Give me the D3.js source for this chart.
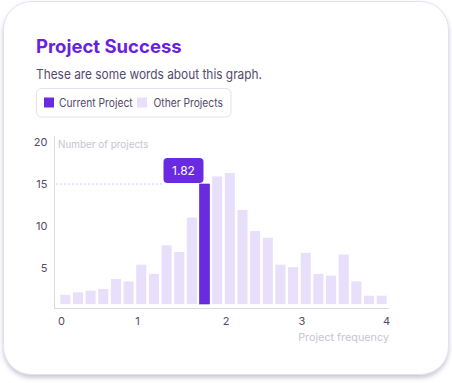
<!DOCTYPE html>
<html>
<head>
<meta charset="utf-8">
<script src="https://cdn.jsdelivr.net/npm/d3@7"></script>
<style>
  body { margin: 0; background: #ffffff; }
  svg { display: block; font-family: Inter, "Noto Sans", sans-serif; }
</style>
</head>
<body>
<svg width="452" height="383"></svg>
<script>
// histogram bins (26 bins between 0 and 4), counts
const binCounts = [1.8, 2.1, 2.3, 2.5, 3.7, 3.4, 5.4, 4.3, 7.7, 6.9, 11.0, 15.0, 15.9,
  16.3, 11.9, 9.4, 8.6, 5.4, 5.1, 6.8, 4.3, 4.1, 6.6, 3.4, 1.7, 1.7];
const currentBin = 11;
const currentValue = "1.82";
const xTickBins = [0, 6, 13, 19, 26];
const xTickLabels = ["0", "1", "2", "3", "4"];
const yTicks = [5, 10, 15, 20];
const legendItems = ["Current Project", "Other Projects"];

const dark = "#6a2be0";
const light = "#e8dffa";
const textCol = "#54496a";

const svg = d3.select("svg");

// card
const defs = svg.append("defs");
const f = defs.append("filter").attr("id", "shadow")
  .attr("x", "-5%").attr("y", "-5%").attr("width", "110%").attr("height", "115%");
f.append("feDropShadow").attr("dx", 0).attr("dy", 3).attr("stdDeviation", 2)
  .attr("flood-color", "#6b6680").attr("flood-opacity", 0.35);

svg.append("rect")
  .attr("x", 3.5).attr("y", 1.5).attr("width", 445).attr("height", 373)
  .attr("rx", 28)
  .attr("fill", "#fff").attr("stroke", "#e6def7").attr("stroke-width", 1)
  .attr("filter", "url(#shadow)");

// title and subtitle
svg.append("text").attr("x", 36).attr("y", 52.5)
  .attr("fill", "#6a1fe3").attr("font-size", 18.5).attr("font-weight", 700)
  .text("Project Success");
svg.append("text").attr("x", 36).attr("y", 79)
  .attr("fill", textCol).attr("font-size", 13.5)
  .attr("textLength", 226).attr("lengthAdjust", "spacingAndGlyphs")
  .text("These are some words about this graph.");

// legend
svg.append("rect").attr("x", 36.5).attr("y", 88.5).attr("width", 194.5).attr("height", 28.5)
  .attr("rx", 5).attr("fill", "#fff").attr("stroke", "#e4e1ea");
const legendX = [44, 137];
const legendW = [73.6, 69.3];
legendItems.forEach((name, i) => {
  svg.append("rect").attr("x", legendX[i]).attr("y", 97.5).attr("width", 10).attr("height", 10)
    .attr("fill", i === 0 ? dark : light);
  svg.append("text").attr("x", legendX[i] + (i === 0 ? 15 : 16.5)).attr("y", 106.8)
    .attr("fill", textCol).attr("font-size", 11.2)
    .attr("textLength", legendW[i]).attr("lengthAdjust", "spacingAndGlyphs")
    .text(name);
});

// chart area
const x = d3.scaleLinear().domain([0, binCounts.length]).range([60, 389]);
const y = d3.scaleLinear().domain([0, 20]).range([310, 142]);
const barBottom = 304;
const axisY = 308;

// axis lines
svg.append("line").attr("x1", 54.5).attr("x2", 54.5).attr("y1", 136).attr("y2", axisY)
  .attr("stroke", "#dcd9e2");
svg.append("line").attr("x1", 54).attr("x2", 389).attr("y1", axisY + 0.5).attr("y2", axisY + 0.5)
  .attr("stroke", "#dcd9e2");

// y tick labels
svg.append("g").selectAll("text").data(yTicks).join("text")
  .attr("x", 47.5).attr("y", d => y(d) + 4)
  .attr("text-anchor", "end")
  .attr("fill", textCol).attr("font-size", 11)
  .text(d => d);

// x tick labels
svg.append("g").selectAll("text").data(xTickBins).join("text")
  .attr("x", (d, i) => x(d) + (i === xTickBins.length - 1 ? -2.5 : 1.5))
  .attr("y", 325)
  .attr("text-anchor", "middle")
  .attr("fill", textCol).attr("font-size", 11)
  .text((d, i) => xTickLabels[i]);

// axis titles
svg.append("text").attr("x", 58).attr("y", 148)
  .attr("fill", "#c9c4d4").attr("font-size", 10.8)
  .attr("textLength", 90.5).attr("lengthAdjust", "spacingAndGlyphs")
  .text("Number of projects");
svg.append("text").attr("x", 389).attr("y", 341)
  .attr("text-anchor", "end")
  .attr("fill", "#c9c4d4").attr("font-size", 10.8)
  .text("Project frequency");

// bars
svg.append("g").selectAll("rect").data(binCounts).join("rect")
  .attr("x", (d, i) => x(i) + 0.3)
  .attr("width", (d, i) => x(i + 1) - x(i) - 2.6)
  .attr("y", d => y(d))
  .attr("height", d => barBottom - y(d))
  .attr("fill", (d, i) => i === currentBin ? dark : light)
  .attr("stroke", (d, i) => i === currentBin ? "#5a1fc8" : "none")
  .attr("stroke-width", 0.6);

// dashed guide and value badge
const bx = x(currentBin) + 0.3;
const by = y(binCounts[currentBin]);
svg.append("line").attr("x1", 56).attr("x2", bx - 36).attr("y1", by).attr("y2", by)
  .attr("stroke", "#d4cbee").attr("stroke-dasharray", "2,2");
svg.append("rect").attr("x", bx - 36).attr("y", by - 26).attr("width", 40).attr("height", 25)
  .attr("rx", 4).attr("fill", dark);
svg.append("text").attr("x", bx - 16).attr("y", by - 9.5)
  .attr("text-anchor", "middle").attr("fill", "#fff").attr("font-size", 12)
  .text(currentValue);
</script>
</body>
</html>
